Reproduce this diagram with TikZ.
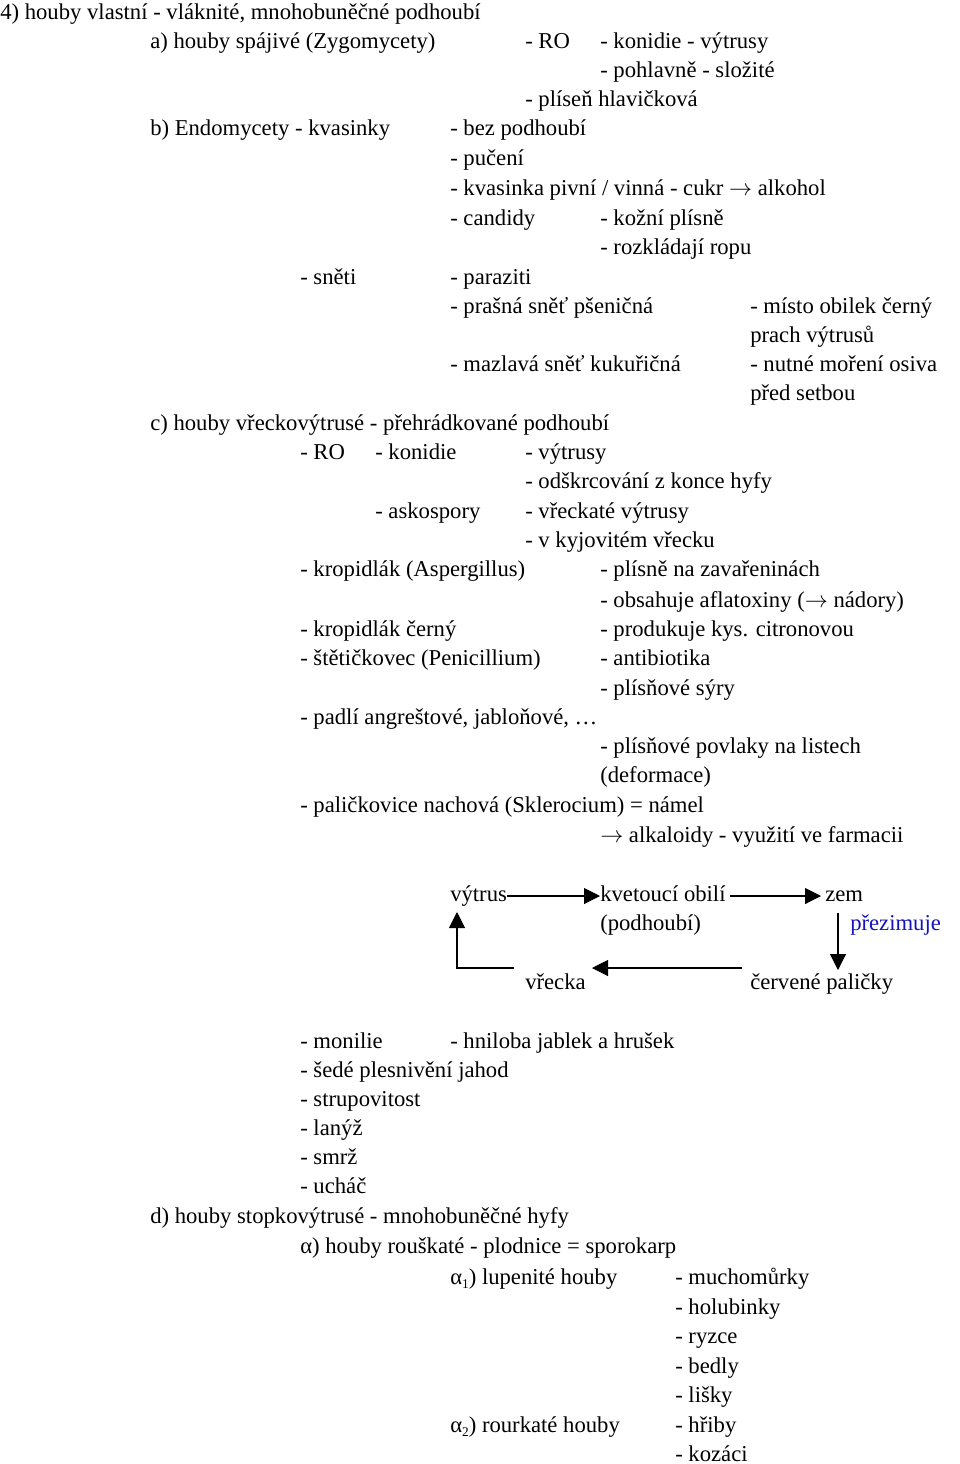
\documentclass[tikz,border=0pt]{standalone}
\usepackage{fontspec}
\setmainfont{Liberation Serif}
\usetikzlibrary{arrows.meta}
\definecolor{cycblue}{RGB}{20,20,190}
\tikzset{
  ln/.style={anchor=west,inner sep=0pt,text height=12pt,text depth=3.5pt,font=\fontsize{17}{20}\selectfont},
  cyc/.style={thick,-{Triangle[length=12pt,width=12pt]}}
}
\newcommand{\sub}[1]{\raisebox{-0.35ex}{\fontsize{10}{10}\selectfont #1}}
\begin{document}
\begin{tikzpicture}[x=0.75pt,y=-0.75pt]
\useasboundingbox (0,0) rectangle (960,1464);
% 4) houby vlastni
\node[ln] (h4) at (0,14) {4) houby vlastní - vláknité, mnohobuněčné podhoubí};
% a) Zygomycety
\node[ln] (a1) at (150,43) {a) houby spájivé (Zygomycety)};
\node[ln] (a2) at (525,43) {- RO};
\node[ln] (a3) at (600,43) {- konidie - výtrusy};
\node[ln] (a4) at (600,72) {- pohlavně - složité};
\node[ln] (a5) at (525,101) {- plíseň hlavičková};
% b) Endomycety
\node[ln] (b1) at (150,130) {b) Endomycety - kvasinky};
\node[ln] (b2) at (450,130) {- bez podhoubí};
\node[ln] (b3) at (450,160) {- pučení};
\node[ln] (b4) at (450,190) {- kvasinka pivní / vinná - cukr $\rightarrow$ alkohol};
\node[ln] (b5) at (450,220) {- candidy};
\node[ln] (b6) at (600,220) {- kožní plísně};
\node[ln] (b7) at (600,249) {- rozkládají ropu};
\node[ln] (s1) at (300,279) {- sněti};
\node[ln] (s2) at (450,279) {- paraziti};
\node[ln] (s3) at (450,308) {- prašná sněť pšeničná};
\node[ln] (s4) at (750,308) {- místo obilek černý};
\node[ln] (s5) at (750,337) {prach výtrusů};
\node[ln] (s6) at (450,366) {- mazlavá sněť kukuřičná};
\node[ln] (s7) at (750,366) {- nutné moření osiva};
\node[ln] (s8) at (750,395) {před setbou};
% c) vreckovytruse
\node[ln] (c1) at (150,425) {c) houby vřeckovýtrusé - přehrádkované podhoubí};
\node[ln] (c2) at (300,454) {- RO};
\node[ln] (c3) at (375,454) {- konidie};
\node[ln] (c4) at (525,454) {- výtrusy};
\node[ln] (c5) at (525,483) {- odškrcování z konce hyfy};
\node[ln] (c6) at (375,513) {- askospory};
\node[ln] (c7) at (525,513) {- vřeckaté výtrusy};
\node[ln] (c8) at (525,542) {- v kyjovitém vřecku};
\node[ln] (k1) at (300,571) {- kropidlák (Aspergillus)};
\node[ln] (k2) at (600,571) {- plísně na zavařeninách};
\node[ln] (k3) at (600,602) {- obsahuje aflatoxiny ($\rightarrow$ nádory)};
\node[ln] (k4) at (300,631) {- kropidlák černý};
\node[ln] (k5) at (600,631) {- produkuje kys. citronovou};
\node[ln] (k6) at (300,660) {- štětičkovec (Penicillium)};
\node[ln] (k7) at (600,660) {- antibiotika};
\node[ln] (k8) at (600,690) {- plísňové sýry};
\node[ln] (p1) at (300,719) {- padlí angreštové, jabloňové, …};
\node[ln] (p2) at (600,748) {- plísňové povlaky na listech};
\node[ln] (p3) at (600,777) {(deformace)};
\node[ln] (p4) at (300,807) {- paličkovice nachová (Sklerocium) = námel};
\node[ln] (p5) at (600,837) {$\rightarrow$ alkaloidy - využití ve farmacii};
% cycle
\node[ln] (vytrus) at (450,896) {výtrus};
\node[ln] (obili) at (600,896) {kvetoucí obilí};
\node[ln] (podh) at (600,925) {(podhoubí)};
\node[ln] (zem) at (825,896) {zem};
\node[ln,text=cycblue] (prez) at (850,925) {přezimuje};
\node[ln] (vrecka) at (525,984) {vřecka};
\node[ln] (palic) at (750,984) {červené paličky};
\coordinate (z1) at (838,913);
\coordinate (z2) at (838,970);
\coordinate (v1) at (742,968);
\coordinate (v2) at (592,968);
\coordinate (h1) at (514,968);
\coordinate (h2) at (457,968);
\coordinate (h3) at (457,912);
\draw[cyc] (vytrus.east) -- (obili.west);
\draw[cyc] ([xshift=3pt]obili.east) -- ([xshift=-3pt]zem.west);
\draw[cyc] (z1) -- (z2);
\draw[cyc] (v1) -- (v2);
\draw[cyc] (h1) -- (h2) -- (h3);
% monilie etc.
\node[ln] (m1) at (300,1043) {- monilie};
\node[ln] (m2) at (450,1043) {- hniloba jablek a hrušek};
\node[ln] (m3) at (300,1072) {- šedé plesnivění jahod};
\node[ln] (m4) at (300,1101) {- strupovitost};
\node[ln] (m5) at (300,1130) {- lanýž};
\node[ln] (m6) at (300,1159) {- smrž};
\node[ln] (m7) at (300,1188) {- ucháč};
% d) stopkovytruse
\node[ln] (d1) at (150,1218) {d) houby stopkovýtrusé - mnohobuněčné hyfy};
\node[ln] (d2) at (300,1248) {α) houby rouškaté - plodnice = sporokarp};
\node[ln] (d3) at (450,1279) {α\sub{1}) lupenité houby};
\node[ln] (d4) at (675,1279) {- muchomůrky};
\node[ln] (d5) at (675,1309) {- holubinky};
\node[ln] (d6) at (675,1338) {- ryzce};
\node[ln] (d7) at (675,1368) {- bedly};
\node[ln] (d8) at (675,1397) {- lišky};
\node[ln] (d9) at (450,1427) {α\sub{2}) rourkaté houby};
\node[ln] (d10) at (675,1427) {- hřiby};
\node[ln] (d11) at (675,1456) {- kozáci};
\end{tikzpicture}
\end{document}
